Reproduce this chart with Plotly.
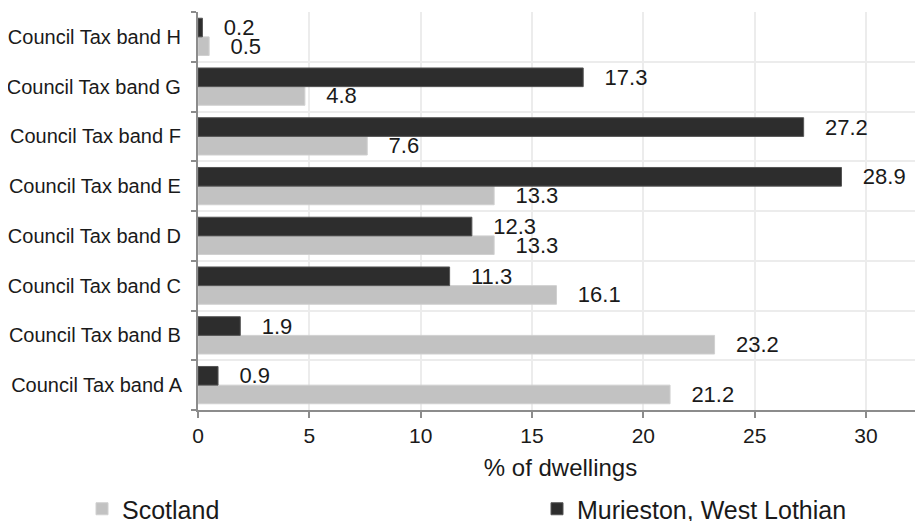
import plotly.graph_objects as go

bands = ["Council Tax band A", "Council Tax band B", "Council Tax band C", "Council Tax band D",
         "Council Tax band E", "Council Tax band F", "Council Tax band G", "Council Tax band H"]
scotland = [21.2, 23.2, 16.1, 13.3, 13.3, 7.6, 4.8, 0.5]
murieston = [0.9, 1.9, 11.3, 12.3, 28.9, 27.2, 17.3, 0.2]

FONT = "Liberation Sans, Arial, sans-serif"
pad = "\u00a0\u00a0\u00a0"

# page body has an 8px margin, so the figure is a bit smaller than the window
W, H = 915, 513

fig = go.Figure()
fig.add_trace(go.Bar(
    y=bands, x=scotland, name="Scotland", orientation="h",
    marker=dict(color="#c2c2c2", line=dict(color="#d0d0d0", width=1)),
    text=[pad + f"{v:.1f}" for v in scotland], textposition="outside",
    constraintext="none", cliponaxis=False,
    textfont=dict(family=FONT, size=22, color="#1a1a1a"),
    legend="legend",
))
fig.add_trace(go.Bar(
    y=bands, x=murieston, name="Murieston, West Lothian", orientation="h",
    marker=dict(color="#2d2d2d", line=dict(color="#555555", width=1)),
    text=[pad + f"{v:.1f}" for v in murieston], textposition="outside",
    constraintext="none", cliponaxis=False,
    textfont=dict(family=FONT, size=22, color="#1a1a1a"),
    legend="legend2",
))

leg = dict(
    orientation="h", xref="container", yref="container",
    y=12 / H, xanchor="left", yanchor="middle",
    font=dict(family=FONT, size=25), bgcolor="rgba(0,0,0,0)",
)

fig.update_layout(
    width=W, height=H,
    margin=dict(l=190, r=0, t=4, b=111, autoexpand=False),
    barmode="group", bargap=0.25, bargroupgap=0,
    plot_bgcolor="white", paper_bgcolor="white",
    font=dict(family=FONT, color="#1a1a1a"),
    showlegend=True,
    legend=dict(leg, x=74 / W),
    legend2=dict(leg, x=529 / W),
    xaxis=dict(
        range=[0, 32.56], tickvals=[0, 5, 10, 15, 20, 25, 30],
        showgrid=True, gridcolor="#ececec", gridwidth=2, zeroline=False,
        showline=True, linecolor="#8c8c8c", linewidth=2,
        ticks="outside", ticklen=6, tickcolor="#8c8c8c", tickwidth=2,
        tickfont=dict(size=21), automargin=False,
        title=dict(text="% of dwellings", font=dict(size=24), standoff=13),
    ),
    yaxis=dict(
        type="category", categoryorder="array", categoryarray=bands,
        tickson="boundaries", showgrid=True, gridcolor="#ececec", gridwidth=2,
        showline=True, linecolor="#8c8c8c", linewidth=2,
        ticks="outside", ticklen=5, tickcolor="#8c8c8c", tickwidth=2,
        tickfont=dict(size=20), ticksuffix="  ", automargin=False,
    ),
)

fig.write_html("out.html")
